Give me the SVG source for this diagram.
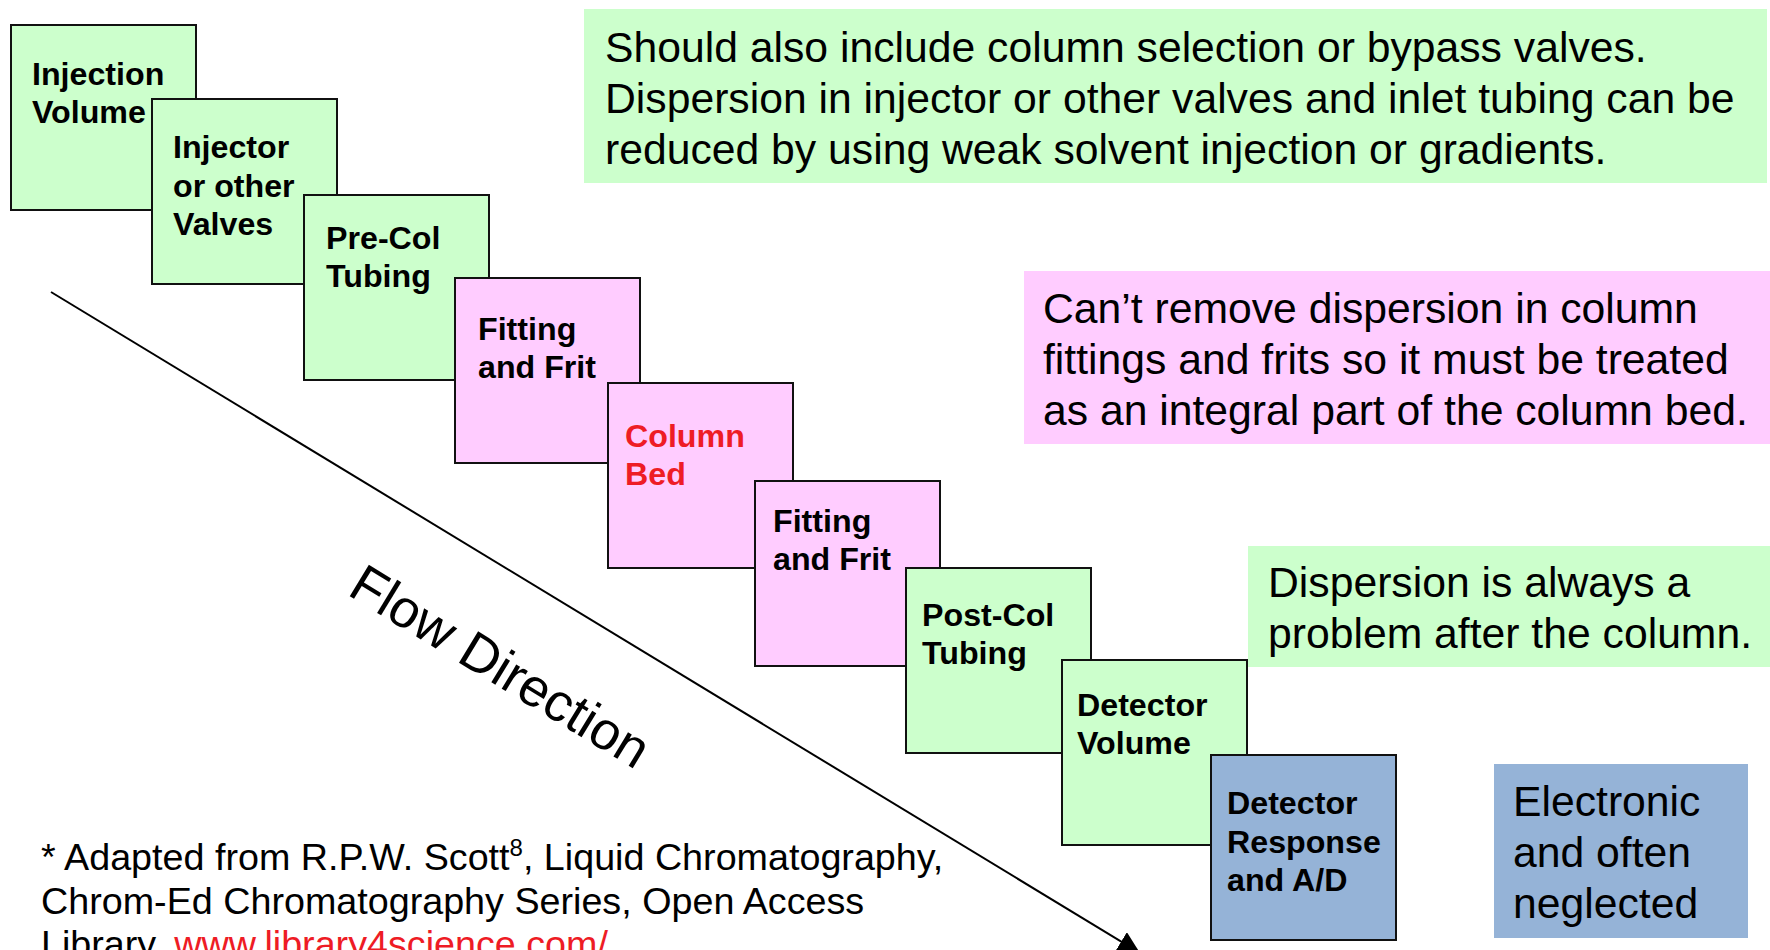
<svg xmlns="http://www.w3.org/2000/svg" width="1770" height="950" viewBox="0 0 1770 950">
  <style>
    .box { stroke: #111; stroke-width: 2; }
    .g { fill: #CCFFCC; }
    .p { fill: #FFCCFF; }
    .b { fill: #95B3D7; }
    .lbl { font-family: "Liberation Sans", Arial, sans-serif; font-weight: bold; font-size: 32.2px; fill: #000; }
    .red { fill: #EE1C25; }
    .note { font-family: "Liberation Sans", Arial, sans-serif; font-size: 42.7px; fill: #000; }
    .foot { font-family: "Liberation Sans", Arial, sans-serif; font-size: 37.7px; fill: #000; }
    .flow { font-family: "Liberation Sans", Arial, sans-serif; font-size: 53.5px; fill: #000; }
  </style>
  <defs>
    <marker id="arrow" markerUnits="userSpaceOnUse" markerWidth="24" markerHeight="24" viewBox="0 0 24 24" refX="22" refY="11" orient="auto">
      <path d="M0,0 L22,11 L0,22 z" fill="#000"/>
    </marker>
  </defs>

  <rect width="1770" height="950" fill="#fff"/>

  <g id="connectors">
    <line x1="51" y1="292" x2="1140" y2="953" stroke="#000" stroke-width="2" marker-end="url(#arrow)"/>
  </g>
  <g id="flow-label">
    <text class="flow" transform="translate(346,594) rotate(31.3)">Flow Direction</text>
  </g>

  <g id="n1">
    <rect class="box g" x="11" y="25" width="185" height="185"/>
    <text class="lbl"><tspan x="32" y="85">Injection</tspan><tspan x="32" y="123">Volume</tspan></text>
  </g>
  <g id="n2">
    <rect class="box g" x="152" y="99" width="185" height="185"/>
    <text class="lbl"><tspan x="173" y="158">Injector</tspan><tspan x="173" y="196.5">or other</tspan><tspan x="173" y="235">Valves</tspan></text>
  </g>
  <g id="n3">
    <rect class="box g" x="304" y="195" width="185" height="185"/>
    <text class="lbl"><tspan x="326" y="249">Pre-Col</tspan><tspan x="326" y="287">Tubing</tspan></text>
  </g>
  <g id="n4">
    <rect class="box p" x="455" y="278" width="185" height="185"/>
    <text class="lbl"><tspan x="478" y="340">Fitting</tspan><tspan x="478" y="378">and Frit</tspan></text>
  </g>
  <g id="n5">
    <rect class="box p" x="608" y="383" width="185" height="185"/>
    <text class="lbl red"><tspan x="625" y="447">Column</tspan><tspan x="625" y="485">Bed</tspan></text>
  </g>
  <g id="n6">
    <rect class="box p" x="755" y="481" width="185" height="185"/>
    <text class="lbl"><tspan x="773" y="532">Fitting</tspan><tspan x="773" y="570">and Frit</tspan></text>
  </g>
  <g id="n7">
    <rect class="box g" x="906" y="568" width="185" height="185"/>
    <text class="lbl"><tspan x="922" y="626">Post-Col</tspan><tspan x="922" y="664">Tubing</tspan></text>
  </g>
  <g id="n8">
    <rect class="box g" x="1062" y="660" width="185" height="185"/>
    <text class="lbl"><tspan x="1077" y="716">Detector</tspan><tspan x="1077" y="754">Volume</tspan></text>
  </g>
  <g id="n9">
    <rect class="box b" x="1211" y="755" width="185" height="185"/>
    <text class="lbl"><tspan x="1227" y="814">Detector</tspan><tspan x="1227" y="853">Response</tspan><tspan x="1227" y="891">and A/D</tspan></text>
  </g>

  <g id="note-inlet">
    <rect class="g" x="584" y="9" width="1183" height="174"/>
    <text class="note"><tspan x="605" y="62">Should also include column selection or bypass valves.</tspan><tspan x="605" y="113">Dispersion in injector or other valves and inlet tubing can be</tspan><tspan x="605" y="164">reduced by using weak solvent injection or gradients.</tspan></text>
  </g>
  <g id="note-column">
    <rect class="p" x="1024" y="271" width="746" height="173"/>
    <text class="note"><tspan x="1043" y="323">Can’t remove dispersion in column</tspan><tspan x="1043" y="374">fittings and frits so it must be treated</tspan><tspan x="1043" y="425">as an integral part of the column bed.</tspan></text>
  </g>
  <g id="note-post">
    <rect class="g" x="1248" y="546" width="522" height="121"/>
    <text class="note"><tspan x="1268" y="597">Dispersion is always a</tspan><tspan x="1268" y="648">problem after the column.</tspan></text>
  </g>
  <g id="note-electronic">
    <rect class="b" x="1494" y="764" width="254" height="174"/>
    <text class="note"><tspan x="1513" y="816">Electronic</tspan><tspan x="1513" y="867">and often</tspan><tspan x="1513" y="918">neglected</tspan></text>
  </g>

  <g id="footnote">
    <text class="foot"><tspan x="41" y="870">* Adapted from R.P.W. Scott<tspan font-size="24" dy="-14">8</tspan><tspan dy="14">, Liquid Chromatography,</tspan></tspan><tspan x="41" y="914">Chrom-Ed Chromatography Series, Open Access</tspan><tspan x="41" y="957">Library, <tspan class="red" text-decoration="underline">www.library4science.com/</tspan></tspan></text>
  </g>
</svg>
